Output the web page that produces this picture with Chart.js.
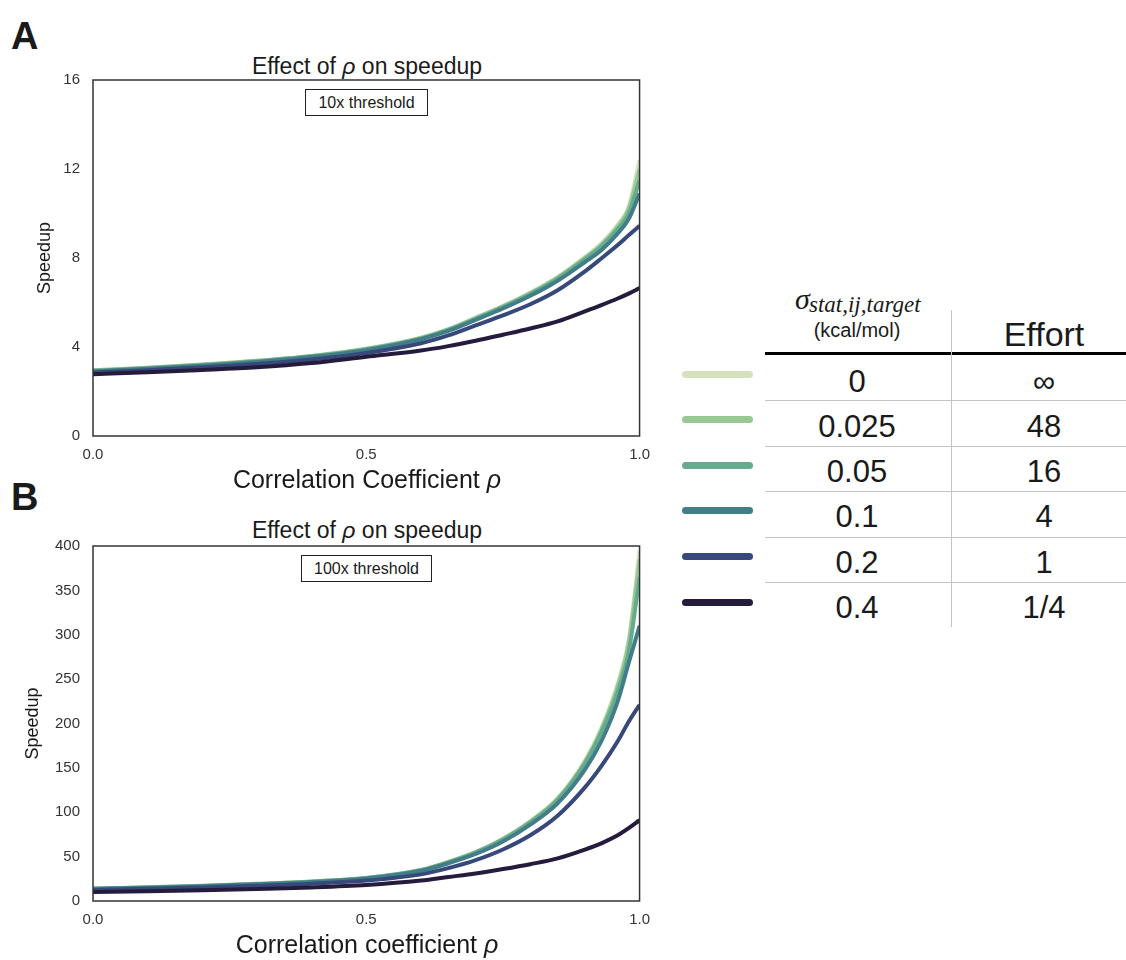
<!DOCTYPE html>
<html>
<head>
<meta charset="utf-8">
<script src="https://cdn.jsdelivr.net/npm/chart.js@4.4.1/dist/chart.umd.min.js"></script>
<style>
  body { margin: 0; background: #fff; font-family: "Liberation Sans", Arial, sans-serif; color: #1a1a1a; }
  #page { position: relative; width: 1126px; height: 960px; overflow: hidden; }
  .abs { position: absolute; white-space: nowrap; }
  .panel { font-weight: bold; font-size: 38px; line-height: 38px; }
  .title { left: 93px; width: 548px; text-align: center; font-size: 23px; height: 30px; line-height: 30px; }
  .xtitle { left: 93px; width: 548px; text-align: center; font-size: 25px; height: 32px; line-height: 32px; }
  .note { border: 1px solid #222; box-sizing: border-box; height: 27px; line-height: 25px; text-align: center; font-size: 16px; background: #fff; }
  .serif { font-family: "Liberation Serif", "DejaVu Serif", serif; font-style: italic; }
  .cell { text-align: center; font-size: 31px; height: 40px; line-height: 40px; }
  .swatch { left: 682px; width: 71px; height: 7px; border-radius: 3.5px; }
  .hline { left: 765px; width: 361px; height: 1px; background: #c4c4c4; }
  canvas { position: absolute; left: 0; }
</style>
</head>
<body>
<div id="page">
  <div class="abs panel" style="left:11px; top:17px">A</div>
  <div class="abs title" style="top:51px">Effect of <i>ρ</i> on speedup</div>
  <canvas id="chartA" width="660" height="470" style="top:0"></canvas>
  <div class="abs note" style="left:305px; top:89px; width:123px">10x threshold</div>
  <div class="abs xtitle" style="top:463px">Correlation Coefficient <i>ρ</i></div>

  <div class="abs panel" style="left:11px; top:478px">B</div>
  <div class="abs title" style="top:515px">Effect of <i>ρ</i> on speedup</div>
  <canvas id="chartB" width="660" height="490" style="top:470px"></canvas>
  <div class="abs note" style="left:301px; top:555px; width:131px">100x threshold</div>
  <div class="abs xtitle" style="top:928px">Correlation coefficient <i>ρ</i></div>

  <div id="legend"></div>
</div>

<script>
// correlation coefficient grid
const rho = [0, 0.1, 0.2, 0.3, 0.4, 0.5, 0.6, 0.65, 0.7, 0.75, 0.8, 0.85, 0.9, 0.93, 0.96, 0.98, 1.0];

const sigmaLabels = ['0', '0.025', '0.05', '0.1', '0.2', '0.4'];
const effortLabels = ['∞', '48', '16', '4', '1', '1/4'];
const lineColors = ['#d4e3bd', '#98c995', '#66ab8e', '#427e87', '#37497a', '#241b3d'];

// A: 10x threshold
const speedupA_0    = [2.95, 3.07, 3.21, 3.38, 3.60, 3.92, 4.42, 4.80, 5.32, 5.85, 6.45, 7.15, 8.05, 8.65, 9.50, 10.3, 12.4];
const speedupA_0025 = [2.95, 3.07, 3.21, 3.38, 3.60, 3.92, 4.41, 4.79, 5.30, 5.83, 6.42, 7.12, 8.00, 8.60, 9.42, 10.2, 12.0];
const speedupA_005  = [2.93, 3.05, 3.19, 3.36, 3.58, 3.90, 4.39, 4.77, 5.27, 5.79, 6.38, 7.07, 7.95, 8.52, 9.30, 10.0, 11.5];
const speedupA_01   = [2.90, 3.02, 3.16, 3.33, 3.55, 3.86, 4.35, 4.72, 5.22, 5.73, 6.30, 6.98, 7.82, 8.35, 9.10, 9.75, 10.9];
const speedupA_02   = [2.85, 2.96, 3.09, 3.24, 3.44, 3.73, 4.17, 4.52, 4.97, 5.42, 5.92, 6.55, 7.40, 7.98, 8.58, 9.02, 9.45];
const speedupA_04   = [2.78, 2.87, 2.97, 3.09, 3.28, 3.56, 3.84, 4.04, 4.28, 4.55, 4.83, 5.15, 5.60, 5.88, 6.18, 6.40, 6.65];

// B: 100x threshold
const speedupB_0    = [14.0, 15.5, 17.2, 19.3, 22.0, 26.0, 35.0, 44.0, 55.0, 70.0, 90.0, 116, 158, 195, 245, 294, 395];
const speedupB_0025 = [14.0, 15.5, 17.2, 19.3, 22.0, 26.0, 35.0, 44.0, 55.0, 70.0, 89.5, 115, 157, 193, 242, 290, 385];
const speedupB_005  = [13.8, 15.3, 17.0, 19.1, 21.8, 25.8, 34.6, 43.5, 54.4, 69.2, 88.5, 114, 155, 190, 236, 280, 365];
const speedupB_01   = [13.5, 15.0, 16.7, 18.8, 21.4, 25.3, 34.0, 42.5, 53.0, 67.0, 86.0, 110, 148, 180, 225, 268, 310];
const speedupB_02   = [12.5, 13.8, 15.3, 17.2, 19.5, 23.0, 30.0, 37.0, 46.0, 58.0, 74.0, 96.0, 128, 152, 180, 202, 221];
const speedupB_04   = [10.0, 11.0, 12.2, 13.6, 15.3, 18.0, 23.0, 27.0, 31.0, 36.0, 41.5, 48.0, 58.0, 65.0, 74.0, 82.0, 91.0];

const seriesA = [speedupA_0, speedupA_0025, speedupA_005, speedupA_01, speedupA_02, speedupA_04];
const seriesB = [speedupB_0, speedupB_0025, speedupB_005, speedupB_01, speedupB_02, speedupB_04];

Chart.defaults.font.family = '"Liberation Sans", Arial, sans-serif';

// box around the plot area
const framePlugin = {
  id: 'frame',
  afterDatasetsDraw(chart) {
    const { ctx, chartArea: a } = chart;
    ctx.save();
    ctx.strokeStyle = '#333';
    ctx.lineWidth = 1.5;
    ctx.strokeRect(a.left, a.top, a.right - a.left, a.bottom - a.top);
    ctx.restore();
  }
};

function makeChart(id, series, yMax, yStep, padTop, xHeight, yTitlePad) {
  return new Chart(document.getElementById(id), {
    type: 'line',
    data: {
      datasets: series.map((vals, i) => ({
        label: sigmaLabels[i],
        data: rho.map((r, j) => ({ x: r, y: vals[j] })),
        borderColor: lineColors[i],
        borderWidth: 4,
        pointRadius: 0,
        fill: false,
        cubicInterpolationMode: 'monotone',
        order: series.length - i
      }))
    },
    options: {
      responsive: false,
      animation: false,
      layout: { padding: { top: padTop, right: 19, left: 0, bottom: 0 } },
      plugins: { legend: { display: false }, tooltip: { enabled: false } },
      scales: {
        x: {
          type: 'linear', min: 0, max: 1,
          grid: { display: false, drawTicks: false },
          border: { display: false },
          ticks: { stepSize: 0.5, maxRotation: 0, padding: 10, color: '#333', font: { size: 15 },
                   callback: v => Number(v).toFixed(1) },
          afterFit: s => { s.height = xHeight; }
        },
        y: {
          min: 0, max: yMax,
          grid: { display: false, drawTicks: false },
          border: { display: false },
          ticks: { stepSize: yStep, padding: 13, color: '#333', font: { size: 15 } },
          title: { display: true, text: 'Speedup', color: '#1a1a1a', font: { size: 18 }, padding: { top: yTitlePad, bottom: 0 } },
          afterFit: s => { s.width = 93; }
        }
      }
    },
    plugins: [framePlugin]
  });
}

makeChart('chartA', seriesA, 16, 4, 80, 34, 34);
makeChart('chartB', seriesB, 400, 50, 76, 59, 22);

// legend table
const legend = document.getElementById('legend');
function add(cls, style, html) {
  const d = document.createElement('div');
  d.className = 'abs ' + cls;
  d.setAttribute('style', style);
  if (html) d.innerHTML = html;
  legend.appendChild(d);
}
add('serif', 'left:795px; top:284px; font-size:30px; line-height:30px', 'σ');
add('serif', 'left:809px; top:293px; font-size:23px; line-height:23px', 'stat,ij,target');
add('', 'left:757px; width:200px; text-align:center; top:318px; font-size:20px; line-height:24px', '(kcal/mol)');
add('', 'left:944px; width:200px; text-align:center; top:314px; font-size:34px; line-height:40px', 'Effort');
add('', 'left:765px; width:361px; top:352px; height:3px; background:#000');
add('', 'left:951px; top:310px; width:1px; height:317px; background:#c4c4c4');
for (let i = 0; i < 5; i++) {
  add('hline', 'top:' + (400 + 45.6 * i).toFixed(1) + 'px');
}
sigmaLabels.forEach((s, i) => {
  const cy = 381.5 + 45.3 * i;
  add('swatch', 'top:' + (374 + 45.6 * i - 3.5).toFixed(1) + 'px; background:' + lineColors[i]);
  add('cell', 'left:757px; width:200px; top:' + (cy - 20).toFixed(1) + 'px', s);
  add('cell', 'left:944px; width:200px; top:' + (cy - 20).toFixed(1) + 'px', effortLabels[i]);
});
</script>
</body>
</html>
